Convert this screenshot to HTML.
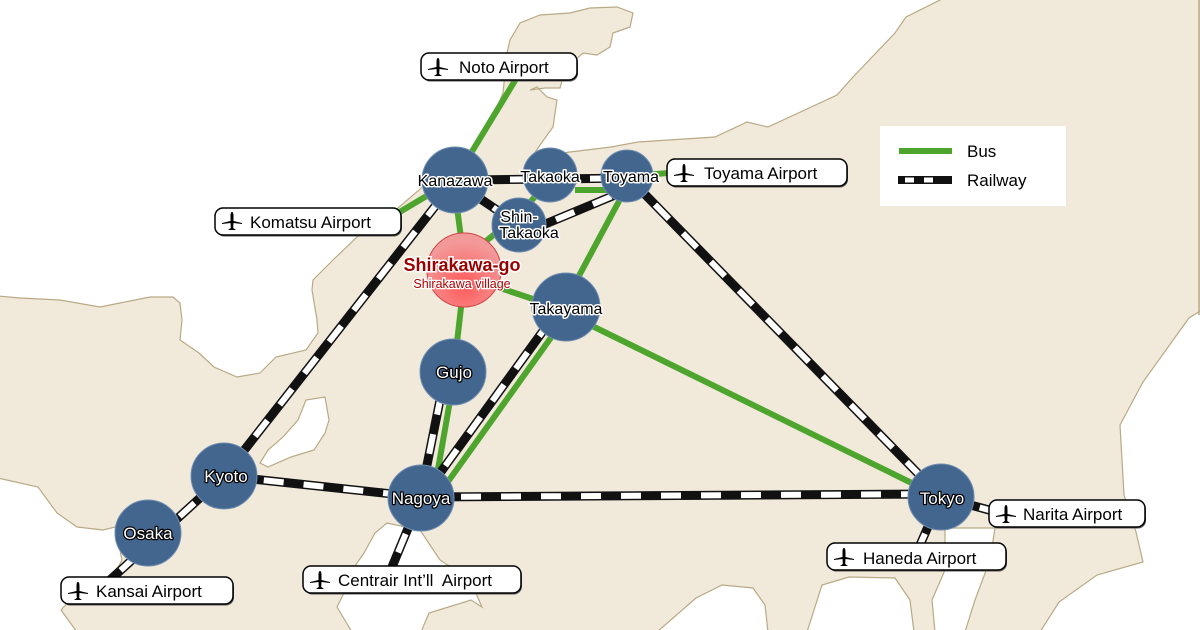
<!DOCTYPE html>
<html><head><meta charset="utf-8"><style>
html,body{margin:0;padding:0;background:#fff}
svg{display:block}
.al{font-family:"Liberation Sans",sans-serif;font-size:17px;fill:#000}
.nb{font-family:"Liberation Sans",sans-serif;font-size:16px;fill:#000;stroke:#fff;stroke-width:3;paint-order:stroke;stroke-linejoin:round}
.nw{font-family:"Liberation Sans",sans-serif;font-size:17px;fill:#fff;stroke:#000;stroke-width:2.5;paint-order:stroke;stroke-linejoin:round}
</style></head><body>
<svg width="1200" height="630" viewBox="0 0 1200 630" xmlns="http://www.w3.org/2000/svg">
<defs>
<radialGradient id="pk" cx="50%" cy="70%" r="60%">
<stop offset="0" stop-color="#ff5a5a"/><stop offset="1" stop-color="#f29a9a"/>
</radialGradient>
<g id="plane"><path d="M0,-9 C1.5,-9 1.5,-6 1.5,-4 L1.5,0 L10,2 L10,3 L1.5,2 L1.2,7 L4,9 L-4,9 L-1.2,7 L-1.5,2 L-10,3 L-10,2 L-1.5,0 L-1.5,-4 C-1.5,-6 -1.5,-9 0,-9Z" fill="#000"/></g>
</defs>
<rect width="1200" height="630" fill="#f1e9da"/>
<g fill="#fff" stroke="#b9aa86" stroke-width="1.2">
<path d="M-2,-2 L944,-2 L906,17 L895,33 L853,77 L837,95 L768,127 L747,122 L715,137 L638,142 L611,147 L570,152 L532,157 L540,145 L553,127 L557,100 L547,97 L537,87 L530,90 L545,88 L560,88 L565,70 L583,53 L597,55 L610,47 L613,33 L630,27 L633,13 L617,7 L590,8 L570,13 L540,15 L520,23 L510,40 L507,53 L503,93 L497,107 L480,143 L470,158 L440,168 L419,190 L390,215 L357,237 L333,260 L313,280 L312,290 L317,320 L318,333 L306,350 L276,357 L260,373 L237,377 L214,367 L199,353 L180,340 L182,320 L180,303 L173,297 L150,297 L120,303 L100,307 L60,300 L20,298 L-2,296 Z"/>
<path d="M325,397 L306,400 L298,420 L283,437 L268,450 L260,463 L268,467 L291,457 L314,450 L325,433 L329,420 Z"/>
<path d="M-2,478 L38,487 L57,513 L77,527 L103,530 L115,527 L122,560 L105,590 L70,600 L61,610 L77,632 L-2,632 Z"/>
<path d="M387,523 L375,533 L364,553 L352,570 L344,593 L337,607 L352,632 L421,632 L429,613 L471,600 L482,607 L470,580 L440,560 L420,530 Z"/>
<path d="M657,632 L696,598 L722,585 L753,588 L765,605 L768,632 Z"/>
<path d="M807,632 L822,585 L849,577 L895,578 L910,600 L914,632 Z"/>
<path d="M945,528 L995,528 L990,560 L975,600 L965,632 L935,632 L932,600 L945,570 Z"/>
<path d="M1202,310 L1189,318 L1143,382 L1120,425 L1124,495 L1136,532 L1143,562 L1097,575 L1059,602 L1040,632 L1202,632 Z"/>
</g>
<line x1="1199" y1="0" x2="1199" y2="315" stroke="#b9aa86" stroke-width="1.5"/>

<g stroke="#4ea52e" stroke-width="6" stroke-linecap="butt" fill="none">
<line x1="516" y1="79" x2="462" y2="168"/>
<line x1="398" y1="213" x2="440" y2="188"/>
<line x1="456" y1="200" x2="462" y2="245"/>
<line x1="475" y1="250" x2="512" y2="220"/>
<line x1="519" y1="215" x2="545" y2="185"/>
<line x1="575" y1="190" x2="610" y2="190"/>
<line x1="645" y1="175" x2="668" y2="173"/>
<line x1="625" y1="190" x2="566" y2="300"/>
<line x1="470" y1="278" x2="566" y2="310"/>
<line x1="463" y1="290" x2="455" y2="360"/>
<line x1="451" y1="395" x2="437" y2="475"/>
<line x1="560" y1="325" x2="442" y2="490"/>
<line x1="580" y1="320" x2="930" y2="492"/>
</g>

<g fill="none" stroke-linecap="butt">
<g stroke="#111" stroke-width="9">
<line x1="470" y1="180" x2="640" y2="178"/>
<line x1="460" y1="185" x2="519" y2="225"/>
<line x1="519" y1="235" x2="627" y2="190"/>
<line x1="440" y1="200" x2="224" y2="476"/>
<line x1="224" y1="476" x2="110" y2="580"/>
<line x1="224" y1="476" x2="421" y2="497"/>
<line x1="421" y1="497" x2="941" y2="494"/>
<line x1="421" y1="497" x2="392" y2="567"/>
<line x1="441" y1="395" x2="426" y2="470"/>
<line x1="551" y1="320" x2="435" y2="480"/>
<line x1="627" y1="176" x2="941" y2="497"/>
<line x1="941" y1="497" x2="1000" y2="513"/>
<line x1="941" y1="497" x2="920" y2="545"/>
</g>
<g stroke="#fff" stroke-width="6" stroke-dasharray="20 20">
<line x1="470" y1="180" x2="640" y2="178"/>
<line x1="460" y1="185" x2="519" y2="225"/>
<line x1="519" y1="235" x2="627" y2="190"/>
<line x1="440" y1="200" x2="224" y2="476"/>
<line x1="224" y1="476" x2="110" y2="580"/>
<line x1="224" y1="476" x2="421" y2="497"/>
<line x1="421" y1="497" x2="941" y2="494"/>
<line x1="421" y1="497" x2="392" y2="567"/>
<line x1="441" y1="395" x2="426" y2="470"/>
<line x1="551" y1="320" x2="435" y2="480"/>
<line x1="627" y1="176" x2="941" y2="497"/>
<line x1="941" y1="497" x2="1000" y2="513"/>
<line x1="941" y1="497" x2="920" y2="545"/>
</g>
</g>

<g fill="#43668f" stroke="#6f8db0" stroke-width="1">
<circle cx="455" cy="180" r="33"/>
<circle cx="550" cy="175" r="27"/>
<circle cx="627" cy="176" r="26"/>
<circle cx="519" cy="225" r="27"/>
<circle cx="566" cy="307" r="34"/>
<circle cx="453" cy="372" r="33"/>
<circle cx="421" cy="498" r="33"/>
<circle cx="224" cy="476" r="33"/>
<circle cx="148" cy="533" r="33"/>
<circle cx="941" cy="497" r="33"/>
</g>
<circle cx="464" cy="270" r="37" fill="url(#pk)" stroke="#d04545" stroke-width="1"/>

<text class="nb" x="455" y="186" text-anchor="middle" font-size="17">Kanazawa</text>
<text class="nb" x="550" y="182" text-anchor="middle">Takaoka</text>
<text class="nb" x="631" y="182" text-anchor="middle">Toyama</text>
<text class="nb" x="519" y="222" text-anchor="middle">Shin-</text>
<text class="nb" x="529" y="238" text-anchor="middle">Takaoka</text>
<text class="nb" x="566" y="314" text-anchor="middle" font-size="17">Takayama</text>
<text class="nw" x="454" y="378" text-anchor="middle">Gujo</text>
<text class="nw" x="421" y="504" text-anchor="middle">Nagoya</text>
<text class="nw" x="226" y="482" text-anchor="middle">Kyoto</text>
<text class="nw" x="148" y="539" text-anchor="middle">Osaka</text>
<text class="nw" x="942" y="504" text-anchor="middle">Tokyo</text>
<text x="462" y="271" text-anchor="middle" font-family="Liberation Sans, sans-serif" font-size="18" font-weight="bold" fill="#9a0000" stroke="#fff" stroke-width="3" paint-order="stroke">Shirakawa-go</text>
<text x="462" y="288" text-anchor="middle" font-family="Liberation Sans, sans-serif" font-size="12.5" fill="#b00000" stroke="#fff" stroke-width="2.5" paint-order="stroke">Shirakawa village</text>

<g stroke="#000" stroke-width="1.5">
<rect x="421" y="53" width="156" height="27" rx="8" fill="#555" transform="translate(1,1.5)" stroke="none"/>
<rect x="421" y="53" width="156" height="27" rx="8" fill="#fff"/>
<rect x="215" y="208" width="186" height="27" rx="8" fill="#555" transform="translate(1,1.5)" stroke="none"/>
<rect x="215" y="208" width="186" height="27" rx="8" fill="#fff"/>
<rect x="667" y="159" width="180" height="27" rx="8" fill="#555" transform="translate(1,1.5)" stroke="none"/>
<rect x="667" y="159" width="180" height="27" rx="8" fill="#fff"/>
<rect x="61" y="577" width="172" height="27" rx="8" fill="#555" transform="translate(1,1.5)" stroke="none"/>
<rect x="61" y="577" width="172" height="27" rx="8" fill="#fff"/>
<rect x="303" y="566" width="218" height="27" rx="8" fill="#555" transform="translate(1,1.5)" stroke="none"/>
<rect x="303" y="566" width="218" height="27" rx="8" fill="#fff"/>
<rect x="989" y="500" width="156" height="27" rx="8" fill="#555" transform="translate(1,1.5)" stroke="none"/>
<rect x="989" y="500" width="156" height="27" rx="8" fill="#fff"/>
<rect x="827" y="543" width="179" height="27" rx="8" fill="#555" transform="translate(1,1.5)" stroke="none"/>
<rect x="827" y="543" width="179" height="27" rx="8" fill="#fff"/>
</g>
<use href="#plane" x="438" y="67"/>
<use href="#plane" x="232" y="221"/>
<use href="#plane" x="684" y="173"/>
<use href="#plane" x="78" y="591"/>
<use href="#plane" x="320" y="580"/>
<use href="#plane" x="1006" y="514"/>
<use href="#plane" x="844" y="557"/>
<text class="al" x="459" y="73">Noto Airport</text>
<text class="al" x="250" y="228">Komatsu Airport</text>
<text class="al" x="704" y="179">Toyama Airport</text>
<text class="al" x="96" y="597">Kansai Airport</text>
<text class="al" x="338" y="586">Centrair Int’ll&#160; Airport</text>
<text class="al" x="1023" y="520">Narita Airport</text>
<text class="al" x="863" y="564">Haneda Airport</text>

<rect x="880" y="126" width="186" height="80" fill="#fff"/>
<line x1="899" y1="151" x2="952" y2="151" stroke="#4ea52e" stroke-width="6"/>
<line x1="898" y1="180" x2="952" y2="180" stroke="#111" stroke-width="8"/>
<line x1="898" y1="180" x2="952" y2="180" stroke="#fff" stroke-width="5" stroke-dasharray="0 7 9 10 9 20"/>
<text x="967" y="157" font-family="Liberation Sans, sans-serif" font-size="17" fill="#000">Bus</text>
<text x="967" y="186" font-family="Liberation Sans, sans-serif" font-size="17" fill="#000">Railway</text>
</svg>
</body></html>
